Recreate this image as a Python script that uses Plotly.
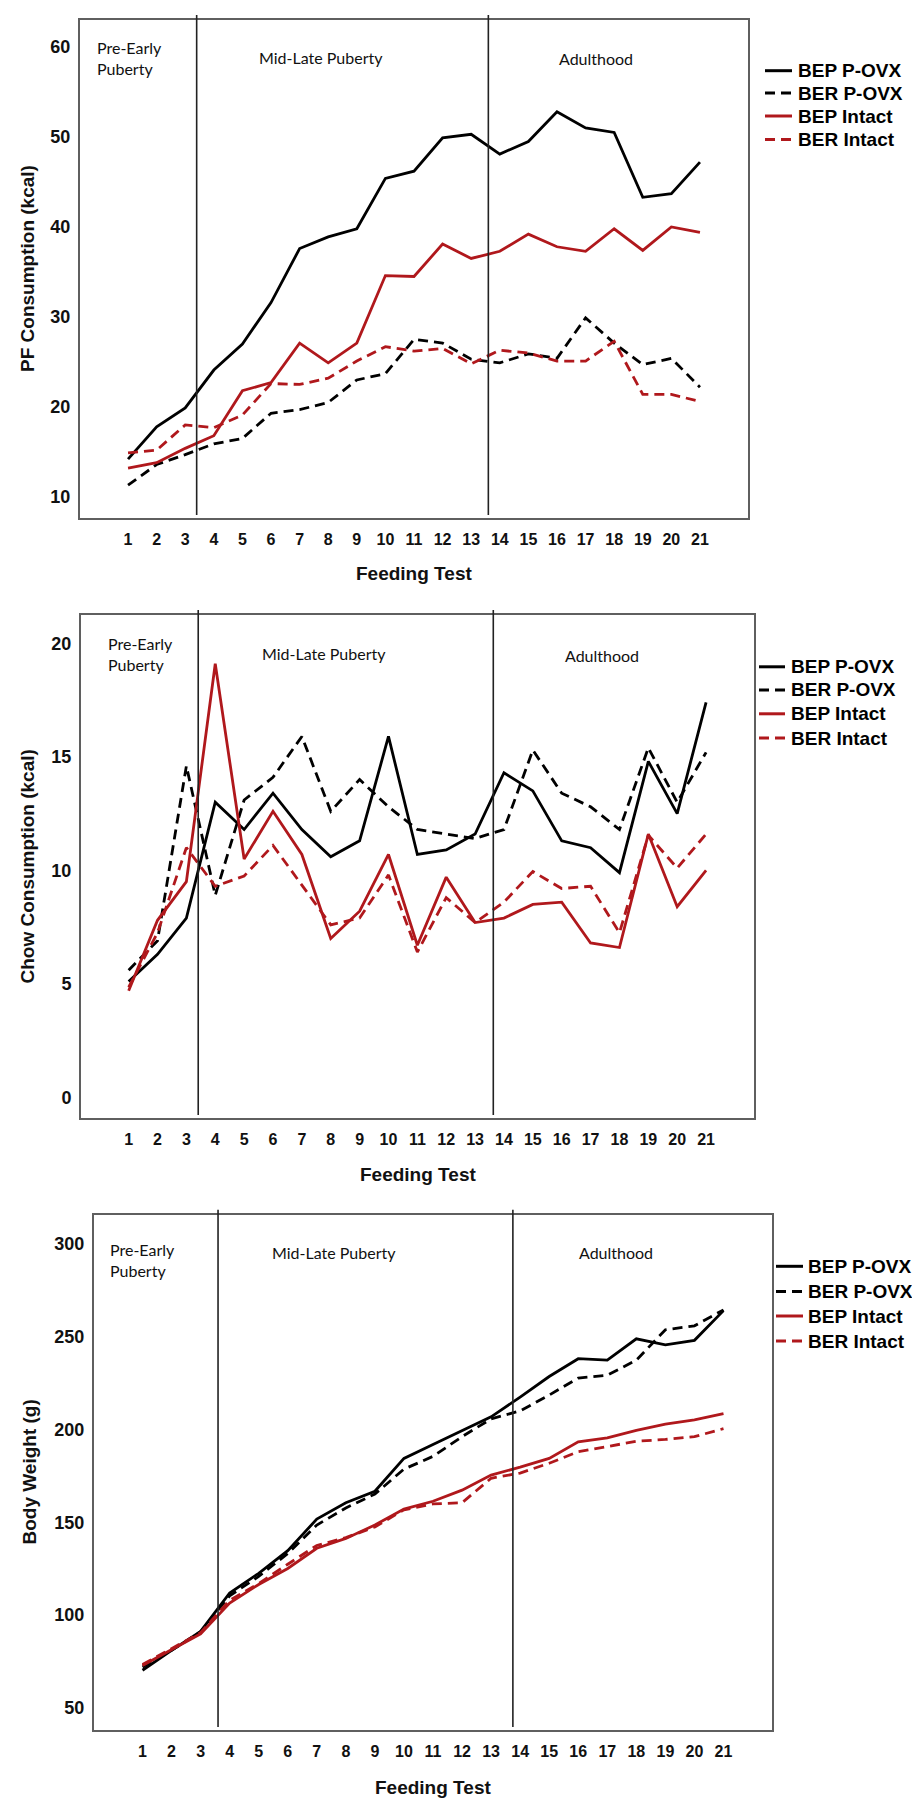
import plotly.graph_objects as go

tests = list(range(1, 22))
series_names = ["BEP P-OVX", "BER P-OVX", "BEP Intact", "BER Intact"]

# Panel 1: PF consumption (kcal)
pf_bep_povx = [14.2, 17.8, 19.9, 24.1, 27.0, 31.6, 37.6, 38.9, 39.8, 45.4, 46.2, 49.9, 50.3, 48.1, 49.5, 52.8, 51.0, 50.5, 43.3, 43.7, 47.2]
pf_ber_povx = [11.3, 13.6, 14.7, 15.9, 16.5, 19.3, 19.7, 20.5, 23.0, 23.7, 27.5, 27.1, 25.3, 24.9, 25.9, 25.4, 29.9, 27.1, 24.7, 25.4, 22.2]
pf_bep_intact = [13.2, 13.8, 15.4, 16.8, 21.8, 22.7, 27.1, 24.9, 27.1, 34.6, 34.5, 38.1, 36.5, 37.3, 39.2, 37.8, 37.3, 39.8, 37.4, 40.0, 39.4]
pf_ber_intact = [14.9, 15.2, 18.0, 17.7, 19.1, 22.6, 22.5, 23.2, 25.1, 26.7, 26.2, 26.5, 24.8, 26.3, 26.0, 25.1, 25.1, 27.3, 21.4, 21.4, 20.6]

# Panel 2: Chow consumption (kcal)
chow_bep_povx = [5.1, 6.3, 7.9, 13.0, 11.8, 13.4, 11.8, 10.6, 11.3, 15.9, 10.7, 10.9, 11.6, 14.3, 13.5, 11.3, 11.0, 9.9, 14.8, 12.5, 17.4]
chow_ber_povx = [5.6, 6.9, 14.6, 8.9, 13.1, 14.1, 15.9, 12.6, 14.0, 12.8, 11.8, 11.6, 11.4, 11.8, 15.3, 13.4, 12.8, 11.8, 15.4, 13.0, 15.2]
chow_bep_intact = [4.7, 7.8, 9.5, 19.1, 10.5, 12.6, 10.7, 7.0, 8.2, 10.7, 6.7, 9.7, 7.7, 7.9, 8.5, 8.6, 6.8, 6.6, 11.6, 8.4, 10.0]
chow_ber_intact = [4.85, 7.25, 11.0, 9.3, 9.75, 11.1, 9.35, 7.6, 7.9, 9.8, 6.4, 8.8, 7.7, 8.6, 9.95, 9.2, 9.3, 7.25, 11.55, 10.1, 11.6]

# Panel 3: Body weight (g)
bw_bep_povx = [70.3, 81.0, 91.2, 111.9, 122.5, 134.7, 151.7, 160.5, 166.7, 184.4, 191.9, 199.3, 206.8, 217.4, 228.5, 238.1, 237.3, 248.8, 245.6, 248.0, 264.0]
bw_ber_povx = [72.0, 81.0, 91.0, 110.4, 120.8, 133.2, 148.5, 157.7, 165.2, 178.6, 185.5, 196.1, 205.7, 210.0, 218.5, 227.7, 229.2, 237.3, 253.7, 255.8, 264.4]
bw_bep_intact = [72.8, 81.4, 89.9, 106.5, 116.5, 125.1, 136.0, 141.3, 148.5, 157.1, 161.3, 167.3, 175.4, 179.7, 184.4, 193.3, 195.5, 199.5, 202.9, 205.1, 208.5]
bw_ber_intact = [73.4, 82.0, 90.5, 108.0, 117.0, 127.4, 137.5, 141.7, 147.5, 156.7, 159.9, 160.5, 173.7, 176.5, 181.8, 188.0, 190.8, 193.6, 194.6, 196.1, 200.4]

period_labels = ["Pre-Early<br>Puberty", "Mid-Late Puberty", "Adulthood"]
y_titles = ["PF Consumption (kcal)", "Chow Consumption (kcal)", "Body Weight (g)"]
x_title = "Feeding Test"

W, H = 920, 1800
BLACK = "#000000"
RED = "#B0181C"
DASH = "10px,6px"
styles = [(BLACK, "solid"), (BLACK, DASH), (RED, "solid"), (RED, DASH)]

panels = [
    dict(data=[pf_bep_povx, pf_ber_povx, pf_bep_intact, pf_ber_intact],
         frame=(72, 740, 12, 510), yrange=[7.66, 63.0], xrange=[-0.68, 22.68],
         yticks=[10, 20, 30, 40, 50, 60], vlines=[3.4, 13.6],
         leg_rows=[62.7, 85.0, 108.0, 131.5], leg_x=(757, 784, 790),
         ann_y=(39, 61, 49, 51), pre_x=87, mid_x=313, adu_x=588,
         ytitle_x=19, xtitle_y=565),
    dict(data=[chow_bep_povx, chow_ber_povx, chow_bep_intact, chow_ber_intact],
         frame=(73, 746, 607, 1110), yrange=[-0.91, 21.25], xrange=[-0.65, 22.66],
         yticks=[0, 5, 10, 15, 20], vlines=[3.41, 13.63],
         leg_rows=[658.8, 682.0, 705.8, 730.0], leg_x=(751, 777, 783),
         ann_y=(636, 657, 645, 647), pre_x=98, mid_x=316, adu_x=594,
         ytitle_x=19, xtitle_y=1166),
    dict(data=[bw_bep_povx, bw_ber_povx, bw_bep_intact, bw_ber_intact],
         frame=(86, 764, 1207, 1722), yrange=[38.1, 315.5], xrange=[-0.67, 22.67],
         yticks=[50, 100, 150, 200, 250, 300], vlines=[3.6, 13.75],
         leg_rows=[1258.3, 1283.5, 1308.0, 1333.0], leg_x=(768, 795, 800),
         ann_y=(1240, 1263, 1244, 1244), pre_x=100, mid_x=326, adu_x=608,
         ytitle_x=21, xtitle_y=1779),
]

fig = go.Figure()
layout = dict(width=W, height=H, margin=dict(l=0, r=0, t=0, b=0),
              paper_bgcolor="white", plot_bgcolor="white", showlegend=False)
shapes, annotations = [], []

for i, p in enumerate(panels):
    n = i + 1
    xa = "x" if n == 1 else f"x{n}"
    ya = "y" if n == 1 else f"y{n}"
    L, R, T, B = p["frame"]
    for k, vals in enumerate(p["data"]):
        color, dash = styles[k]
        fig.add_trace(go.Scatter(x=tests, y=vals, mode="lines", name=series_names[k],
                                 line=dict(color=color, width=2.8, dash=dash),
                                 xaxis=xa, yaxis=ya))
    layout[f"xaxis{'' if n == 1 else n}"] = dict(
        domain=[L / W, R / W], range=p["xrange"], anchor=ya,
        tickmode="array", tickvals=tests, ticktext=[str(t) for t in tests],
        ticks="", showgrid=False, zeroline=False,
        showline=True, mirror=True, linecolor="#5f5f5f", linewidth=2,
        tickfont=dict(family="Liberation Sans Narrow, Liberation Sans, Arial", size=16,
                      color="#111", weight="bold"),
        ticklabelstandoff=6)
    layout[f"yaxis{'' if n == 1 else n}"] = dict(
        domain=[1 - B / H, 1 - T / H], range=p["yrange"], anchor=xa,
        tickmode="array", tickvals=p["yticks"], ticks="", showgrid=False, zeroline=False,
        showline=True, mirror=True, linecolor="#5f5f5f", linewidth=2,
        tickfont=dict(family="Liberation Sans, Arial", size=18, color="#111", weight="bold"),
        ticklabelstandoff=4)
    # legend (line samples + labels)
    lx0, lx1, tx = p["leg_x"]
    for k, ry in enumerate(p["leg_rows"]):
        color, dash = styles[k]
        shapes.append(dict(type="line", xref="paper", yref="paper",
                           x0=lx0 / W, x1=lx1 / W, y0=1 - ry / H, y1=1 - ry / H,
                           line=dict(color=color, width=3, dash=dash)))
        annotations.append(dict(text=series_names[k], xref="paper", yref="paper",
                                x=(tx - 2) / W, y=1 - ry / H, xanchor="left", yanchor="middle",
                                showarrow=False,
                                font=dict(family="Liberation Sans, Arial", size=19, color="#000",
                                          weight="bold")))
    for v in p["vlines"]:
        shapes.append(dict(type="line", xref=xa, yref=f"{ya} domain", x0=v, x1=v, y0=0.006, y1=1.01,
                           line=dict(color="#222", width=1.6)))
    a_pre, a_pub, a_mid, a_adu = p["ann_y"]
    fnt = dict(family="Lato, Noto Sans", size=16, color="#111")
    annotations.append(dict(text=period_labels[0], xref="paper", yref="paper",
                            x=p["pre_x"] / W, y=1 - ((a_pre + a_pub) / 2) / H,
                            xanchor="left", yanchor="middle", align="left", showarrow=False, font=fnt))
    annotations.append(dict(text=period_labels[1], xref="paper", yref="paper",
                            x=p["mid_x"] / W, y=1 - a_mid / H, xanchor="center", yanchor="middle",
                            showarrow=False, font=fnt))
    annotations.append(dict(text=period_labels[2], xref="paper", yref="paper",
                            x=p["adu_x"] / W, y=1 - a_adu / H, xanchor="center", yanchor="middle",
                            showarrow=False, font=fnt))
    annotations.append(dict(text=y_titles[i], xref="paper", yref="paper", textangle=-90,
                            x=p["ytitle_x"] / W, y=1 - ((T + B) / 2) / H, xanchor="center", yanchor="middle",
                            showarrow=False,
                            font=dict(family="Liberation Sans, Arial", size=19, color="#111", weight="bold")))
    annotations.append(dict(text=x_title, xref="paper", yref="paper",
                            x=((L + R) / 2) / W, y=1 - p["xtitle_y"] / H, xanchor="center", yanchor="middle",
                            showarrow=False,
                            font=dict(family="Liberation Sans, Arial", size=19, color="#111", weight="bold")))

layout["shapes"] = shapes
layout["annotations"] = annotations
fig.update_layout(**layout)
fig.write_html("out.html")
